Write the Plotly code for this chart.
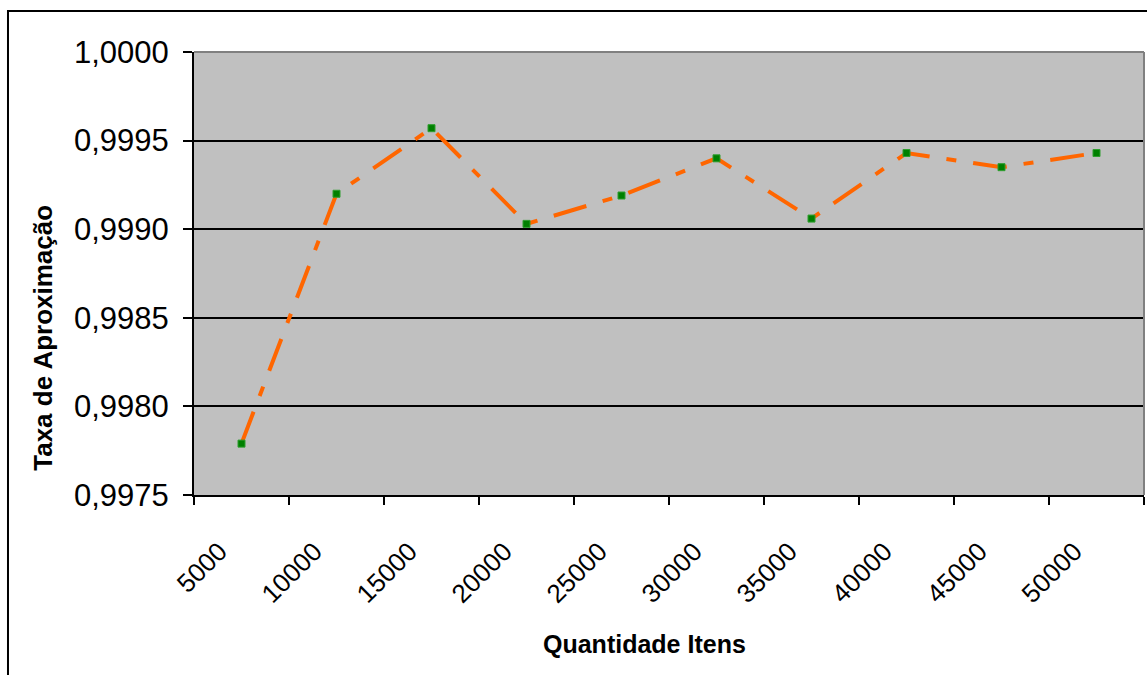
import plotly.graph_objects as go

# Quantidade de itens por execução e a taxa de aproximação obtida
quantidades = ["5000", "10000", "15000", "20000", "25000",
               "30000", "35000", "40000", "45000", "50000"]
taxas = [0.99779, 0.99920, 0.99957, 0.99903, 0.99919,
         0.99940, 0.99906, 0.99943, 0.99935, 0.99943]
marcas_y = [0.9975, 0.9980, 0.9985, 0.9990, 0.9995, 1.0000]

FONTE = "Liberation Sans, Arial, sans-serif"

fig = go.Figure()
fig.add_trace(go.Scatter(
    x=quantidades, y=taxas,
    mode="lines+markers",
    line=dict(color="#FF6600", width=4, dash="34px,17px,10px,17px"),
    marker=dict(symbol="square", size=7, color="#008000",
                line=dict(color="#2E9E2E", width=1)),
    showlegend=False,
))

fig.update_layout(
    width=1147, height=675,
    margin=dict(l=194, r=3, t=52, b=180),
    paper_bgcolor="white",
    plot_bgcolor="#C0C0C0",
    separators=",.",
    font=dict(family=FONTE, color="black"),
    xaxis=dict(
        type="category", range=[-0.5, 9.5],
        tickson="boundaries", ticks="outside", ticklen=8, tickwidth=1.5,
        tickcolor="black", showline=True, linecolor="black", linewidth=2,
        showgrid=False, tickangle=-45,
        tickfont=dict(size=26, family=FONTE, color="black"),
        ticklabelstandoff=29, ticklabelshift=-22,
    ),
    yaxis=dict(
        range=[0.9975, 1.0000], tickvals=marcas_y, tickformat=".4f",
        ticks="outside", ticklen=9, tickwidth=1.5, tickcolor="black",
        showline=True, linecolor="black", linewidth=2,
        showgrid=True, gridcolor="black", gridwidth=1.5,
        zeroline=False, ticklabelstandoff=8,
        tickfont=dict(size=31, family=FONTE, color="black"),
    ),
    shapes=[
        # contorno cinza superior e direito da área do gráfico
        dict(type="line", xref="paper", yref="paper", x0=0, x1=1, y0=1, y1=1,
             line=dict(color="#808080", width=2)),
        dict(type="line", xref="paper", yref="paper", x0=1, x1=1, y0=0, y1=1,
             line=dict(color="#808080", width=2)),
        # moldura externa da área do gráfico
        dict(type="rect", xref="paper", yref="paper",
             x0=-0.1958, x1=1.2, y0=1.0927, y1=-0.6,
             line=dict(color="black", width=2), layer="below"),
    ],
    annotations=[
        dict(text="<b>Quantidade Itens</b>", xref="paper", yref="paper",
             x=0.4737, y=-0.3356, xanchor="center", yanchor="middle",
             showarrow=False, font=dict(size=25, family=FONTE, color="black")),
        dict(text="<b>Taxa de Aproximação</b>", xref="paper", yref="paper",
             x=-0.159, y=0.3548, xanchor="center", yanchor="middle",
             textangle=-90, showarrow=False,
             font=dict(size=26, family=FONTE, color="black")),
    ],
)

fig.write_html("out.html")
